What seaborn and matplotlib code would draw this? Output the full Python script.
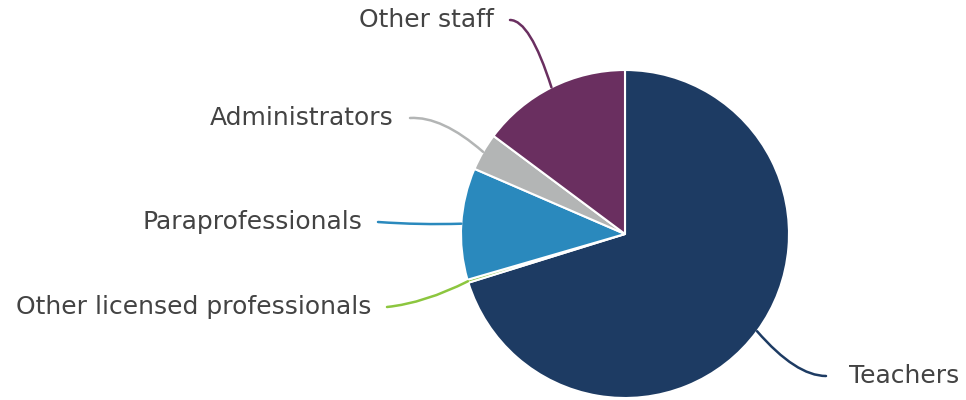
import matplotlib
matplotlib.use("Agg")
import matplotlib.pyplot as plt
from matplotlib.path import Path
from matplotlib.patches import PathPatch
import numpy as np
import seaborn as sns

# Staff composition (percent of total staff)
categories = ["Teachers", "Other licensed professionals", "Paraprofessionals",
              "Administrators", "Other staff"]
shares = [70.2, 0.3, 11.0, 3.7, 14.8]
colors = ["#1d3b63", "#8cc63f", "#2a89bd", "#b3b5b5", "#6a2f60"]

sns.set_theme(style="white")
plt.rcParams["font.family"] = ["DejaVu Sans"]

W, H = 966, 400
fig = plt.figure(figsize=(W / 100, H / 100), dpi=100)
ax = fig.add_axes([0, 0, 1, 1])

cx, cy, R = 625, 166, 164
wedges, _ = ax.pie(shares, colors=colors, startangle=90, counterclock=False,
                   center=(cx, cy), radius=R, frame=True,
                   wedgeprops=dict(edgecolor="white", linewidth=1.5))
ax.set_xlim(0, W)
ax.set_ylim(0, H)
ax.set_aspect("equal")
ax.axis("off")

# label end-of-line position, bezier control point, text alignment
label_layout = {
    "Teachers": ((826, 24), (796, 24), "left"),
    "Other licensed professionals": ((387, 93), (425, 97), "right"),
    "Paraprofessionals": ((378, 178), (420, 175), "right"),
    "Administrators": ((410, 282), (442, 284), "right"),
    "Other staff": ((510, 380), (530, 380), "right"),
}

for w, name, col in zip(wedges, categories, colors):
    mid = np.deg2rad((w.theta1 + w.theta2) / 2)
    start = (cx + R * np.cos(mid), cy + R * np.sin(mid))
    end, ctrl, ha = label_layout[name]
    path = Path([start, ctrl, end], [Path.MOVETO, Path.CURVE3, Path.CURVE3])
    ax.add_patch(PathPatch(path, facecolor="none", edgecolor=col, lw=1.8,
                           capstyle="round"))
    tx = end[0] + (23 if ha == "left" else -16)
    ax.text(tx, end[1], name, ha=ha, va="center", fontsize=18,
            color="#434343")

fig.savefig("out.png", dpi=100, facecolor="white")
